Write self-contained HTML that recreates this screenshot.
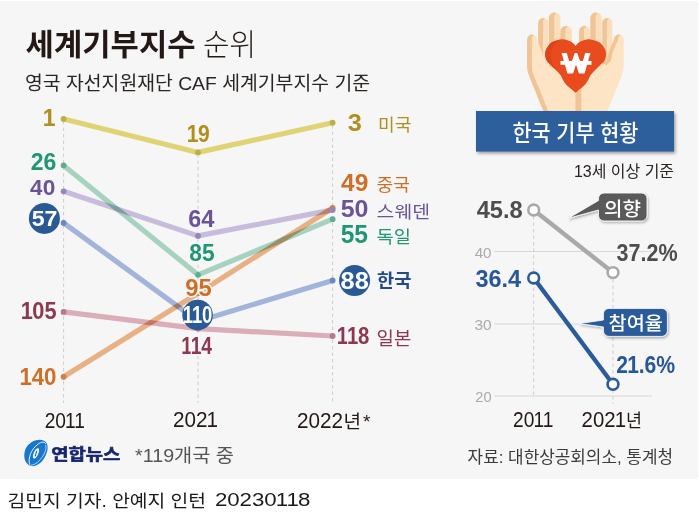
<!DOCTYPE html>
<html lang="ko"><head><meta charset="utf-8"><title>세계기부지수 순위</title>
<style>
html,body{margin:0;padding:0;background:#fff}
#wrap{position:relative;width:699px;height:520px;overflow:hidden;background:#fff;font-family:"Liberation Sans","Noto Sans CJK KR",sans-serif}
#bg{position:absolute;left:0;top:1px;width:698px;height:477.6px;background:#f6f6f6}
svg{position:absolute;left:0;top:0}
svg text{font-family:"Liberation Sans","Noto Sans CJK KR",sans-serif}
.t{position:absolute;color:transparent;white-space:nowrap;overflow:hidden;line-height:1;font-family:"Liberation Sans","Noto Sans CJK KR",sans-serif}
</style></head><body>
<div id="wrap">
<div id="bg"></div>
<svg width="699" height="520" viewBox="0 0 699 520">
<defs>
<filter id="ds" x="-20%" y="-20%" width="140%" height="150%"><feDropShadow dx="1" dy="1.5" stdDeviation="1.2" flood-color="#000" flood-opacity="0.3"/></filter>
<filter id="ds2" x="-5%" y="-20%" width="110%" height="150%"><feDropShadow dx="1.5" dy="2" stdDeviation="1.5" flood-color="#000" flood-opacity="0.35"/></filter>
</defs>
<g id="chart">
<line x1="63.6" y1="121" x2="63.6" y2="403" stroke="#cdcdcd" stroke-width="1" stroke-dasharray="3.5 3"/>
<line x1="198" y1="154" x2="198" y2="403" stroke="#cdcdcd" stroke-width="1" stroke-dasharray="3.5 3"/>
<line x1="332.6" y1="125" x2="332.6" y2="403" stroke="#cdcdcd" stroke-width="1" stroke-dasharray="3.5 3"/>
<g style="isolation:isolate">
<polyline points="63.6,311.9 198.0,328.6 332.6,336.0" fill="none" stroke="#dbadb8" stroke-width="5.2" stroke-linecap="round" stroke-linejoin="round" style="mix-blend-mode:multiply"/>
<polyline points="63.6,376.8 198.0,293.3 332.6,208.0" fill="none" stroke="#e8b085" stroke-width="5.2" stroke-linecap="round" stroke-linejoin="round" style="mix-blend-mode:multiply"/>
<polyline points="63.6,222.9 198.0,321.2 332.6,280.4" fill="none" stroke="#a3b4da" stroke-width="5.2" stroke-linecap="round" stroke-linejoin="round" style="mix-blend-mode:multiply"/>
<polyline points="63.6,165.4 198.0,274.8 332.6,219.2" fill="none" stroke="#a8d2c0" stroke-width="5.2" stroke-linecap="round" stroke-linejoin="round" style="mix-blend-mode:multiply"/>
<polyline points="63.6,191.3 198.0,235.9 332.6,209.9" fill="none" stroke="#c7bcdb" stroke-width="5.2" stroke-linecap="round" stroke-linejoin="round" style="mix-blend-mode:multiply"/>
<polyline points="63.6,119.0 198.0,152.4 332.6,122.7" fill="none" stroke="#dfd374" stroke-width="5.2" stroke-linecap="round" stroke-linejoin="round" style="mix-blend-mode:multiply"/>
</g>
<circle cx="63.6" cy="311.9" r="2.9" fill="#b67a8b"/>
<circle cx="198.0" cy="328.6" r="2.9" fill="#b67a8b"/>
<circle cx="332.6" cy="336.0" r="2.9" fill="#b67a8b"/>
<circle cx="63.6" cy="376.8" r="2.9" fill="#cf8048"/>
<circle cx="198.0" cy="293.3" r="2.9" fill="#cf8048"/>
<circle cx="332.6" cy="208.0" r="2.9" fill="#cf8048"/>
<circle cx="63.6" cy="222.9" r="2.9" fill="#6d88bf"/>
<circle cx="198.0" cy="321.2" r="2.9" fill="#6d88bf"/>
<circle cx="332.6" cy="280.4" r="2.9" fill="#6d88bf"/>
<circle cx="63.6" cy="165.4" r="2.9" fill="#5fae93"/>
<circle cx="198.0" cy="274.8" r="2.9" fill="#5fae93"/>
<circle cx="332.6" cy="219.2" r="2.9" fill="#5fae93"/>
<circle cx="63.6" cy="191.3" r="2.9" fill="#9585b8"/>
<circle cx="198.0" cy="235.9" r="2.9" fill="#9585b8"/>
<circle cx="332.6" cy="209.9" r="2.9" fill="#9585b8"/>
<circle cx="63.6" cy="119.0" r="2.9" fill="#bfae45"/>
<circle cx="198.0" cy="152.4" r="2.9" fill="#bfae45"/>
<circle cx="332.6" cy="122.7" r="2.9" fill="#bfae45"/>
</g>
<g id="mini">
<g stroke="#d8d8d8" stroke-width="1"><line x1="494" y1="251.5" x2="652" y2="251.5"/><line x1="494" y1="324" x2="652" y2="324"/><line x1="494" y1="396" x2="652" y2="396"/></g>
<g stroke="#cdcdcd" stroke-width="1" stroke-dasharray="3.5 3"><line x1="533.7" y1="216" x2="533.7" y2="396"/><line x1="613" y1="279" x2="613" y2="404"/></g>
<line x1="533.7" y1="210" x2="613" y2="272.6" stroke="#a9a9a9" stroke-width="4.400"/>
<line x1="533.7" y1="278" x2="613" y2="384.3" stroke="#2b5b9b" stroke-width="4.400"/>
<g fill="#fff" stroke-width="2.6"><circle cx="533.7" cy="210" r="5.4" stroke="#a9a9a9"/><circle cx="613" cy="272.6" r="5.4" stroke="#a9a9a9"/><circle cx="533.7" cy="278" r="5.4" stroke="#2b5b9b"/><circle cx="613" cy="384.3" r="5.4" stroke="#2b5b9b"/></g>
<g filter="url(#ds)">
<path d="M604 193h37.500a5.500 5.500 0 0 1 5.500 5.500v17a5.500 5.500 0 0 1-5.500 5.500h-37.500a5.500 5.500 0 0 1-5.500-5.500v-5.500l-30.500 8.400 30.500-17.900v-2a5.500 5.500 0 0 1 5.500-5.500z" fill="#5a5a5a" stroke="#fff" stroke-opacity="0.850" stroke-width="1" stroke-linejoin="round"/>
<path d="M608.900 308.400h53a5.500 5.500 0 0 1 5.500 5.500v17a5.500 5.500 0 0 1-5.500 5.500h-53a5.500 5.500 0 0 1-5.500-5.500v-3.900l-24.400-3.400 24.400-3.600v-6.100a5.500 5.500 0 0 1 5.500-5.500z" fill="#2b5b9b" stroke="#fff" stroke-opacity="0.850" stroke-width="1" stroke-linejoin="round"/>
</g>
</g>
<g id="hands">
<defs><clipPath id="wc"><rect x="555" y="53" width="42" height="20.500"/></clipPath></defs>
<!-- left hand fingers -->
<g>
<rect x="538.2" y="18.1" width="10" height="60" rx="4.6" fill="#fbdfbc"/>
<path d="M538.2 78V22.7a4.6 4.6 0 0 1 6.4-4.2 4.6 4.6 0 0 0-1.600 3.600V78z" fill="#f0c494"/>
<rect x="548.9" y="12.5" width="11.5" height="60" rx="5.4" fill="#fbdfbc"/>
<path d="M548.9 72V17.9a5.4 5.4 0 0 1 7.4-5 5.4 5.4 0 0 0-2 4.4V72z" fill="#f0c494"/>
<rect x="560.4" y="25.9" width="11.4" height="40" rx="5.4" fill="#fbdfbc"/>
<path d="M560.4 66V31.3a5.4 5.4 0 0 1 7.4-5 5.4 5.4 0 0 0-2.4 4.600V66z" fill="#f0c494"/>
</g>
<!-- right hand fingers -->
<g>
<rect x="579.2" y="25.9" width="10.8" height="40" rx="5.2" fill="#fbdfbc"/>
<path d="M579.2 66V31.1a5.2 5.2 0 0 1 7.2-4.8 5.2 5.2 0 0 0-2.4 4.4V66z" fill="#f0c494"/>
<rect x="590.4" y="12.5" width="11.4" height="60" rx="5.4" fill="#fbdfbc"/>
<path d="M590.4 72V17.9a5.4 5.4 0 0 1 7.4-5 5.4 5.4 0 0 0-2.200 4.400V72z" fill="#f0c494"/>
<rect x="602.4" y="18.1" width="10" height="60" rx="4.6" fill="#fbdfbc"/>
<path d="M602.4 78V22.7a4.6 4.6 0 0 1 6.400-4.200 4.600 4.600 0 0 0-2 3.800V78z" fill="#f0c494"/>
</g>
<!-- left palm + thumb -->
<path d="M527.1 39.5a4.9 4.9 0 0 1 9.8 0c0 1.500 1 2.500 1.900 4.500l3.400 8.400 2 8.800 6 6 25.200 8V111H543.300L530 78c-2-5-2.900-8-2.900-12z" fill="#fde4c4"/>
<path d="M527.1 39.5a4.900 4.900 0 0 1 6.600-4.600 4.900 4.900 0 0 0-1.800 3.900V66c0 4 .9 7 2.900 12l13.400 33h-4.900L530 78c-2-5-2.900-8-2.900-12z" fill="#f0c494"/>
<!-- right palm + thumb -->
<path d="M623.7 39.5a4.900 4.900 0 0 0-9.800 0c0 1.500-1 2.500-1.900 4.500l-3.400 8.400-2 8.800-6 6-25.200 8V111h32.100L620.800 78c2-5 2.900-8 2.900-12z" fill="#fde4c4"/>
<path d="M613.900 39.500a4.900 4.900 0 0 1 6.600-4.600 4.900 4.900 0 0 0-2.400 4.200c0 1.500-1 2.500-1.900 4.500l-3.400 8.400-2 8.800-4.500 4.500-2.500-1.500 3-3 2-8.800 3.400-8.400c.9-2 1.700-2.600 1.700-4.100z" fill="#f0c494"/>
<path d="M575.4 80l5.900 3V111h-5.900z" fill="#f0c494"/>
<!-- heart -->
<path d="M561.2 39.3C559.7 39.8 554.4 40.8 552.0 42.3C549.6 43.8 547.7 46.5 546.6 48.6C545.5 50.7 545.1 52.9 545.2 55.0C545.3 57.1 546.0 59.3 547.0 61.0C548.0 62.7 549.5 63.5 551.0 65.0C552.5 66.5 554.4 68.3 556.0 70.0C557.6 71.7 559.3 73.3 560.5 75.0C561.7 76.7 562.0 78.3 563.0 80.0C564.0 81.7 564.9 83.3 566.5 85.0C568.1 86.7 571.0 88.7 572.5 90.0C574.0 91.3 574.6 92.6 575.6 92.6C576.6 92.6 577.2 91.3 578.7 90.0C580.2 88.7 583.1 86.7 584.7 85.0C586.3 83.3 587.2 81.7 588.2 80.0C589.2 78.3 589.5 76.7 590.7 75.0C591.9 73.3 593.6 71.7 595.2 70.0C596.8 68.3 598.7 66.5 600.2 65.0C601.7 63.5 603.2 62.7 604.2 61.0C605.2 59.3 605.9 57.1 606.0 55.0C606.1 52.9 605.7 50.7 604.6 48.6C603.5 46.5 601.6 43.8 599.2 42.3C596.8 40.8 591.5 39.8 590.0 39.3C584.5 39.3 578.5 41.5 575.6 46C572.7 41.5 566.7 39.3 561.2 39.3z" fill="#e84b1d"/>
<path d="M561.2 39.3C559.7 39.8 554.4 40.8 552.0 42.3C549.6 43.8 547.7 46.5 546.6 48.6C545.5 50.7 545.1 52.9 545.2 55.0C545.3 57.1 546.0 59.3 547.0 61.0C548.0 62.7 549.5 63.5 551.0 65.0C552.5 66.5 554.4 68.3 556.0 70.0C557.6 71.7 559.8 74.2 560.5 75.0C556.5 70.5 551 64 550.6 57C550.2 49 555 42 561.2 39.3z" fill="#dc4417"/>
<!-- won -->
<g clip-path="url(#wc)">
<path d="M563.900 52l6.300 22 5.800-17 5.800 17 6.300-22" fill="none" stroke="#fff" stroke-width="5" stroke-linejoin="miter" stroke-miterlimit="10"/>
</g>
<rect x="560.500" y="60.900" width="31" height="3.900" fill="#fff"/>
</g>

<rect x="476" y="111" width="198" height="40.6" fill="#2f5f9d" filter="url(#ds2)"/>
<g id="logo">
<path d="M30.500 465.800C26.500 464.500 24 460 24.300 454.500 24.700 447.500 29.500 442 36 440.300 40.500 439.100 45 440 46.800 443.500 48.600 447.500 47.300 453.500 44 458.500 40.500 464 35 467.200 30.500 465.800z" fill="#1777cf"/>
<path d="M29.600 464.400C27.800 459 30.500 449.500 38.500 443.800 41.500 441.700 44.500 441.600 45.600 443.500" fill="none" stroke="#fff" stroke-width="0.900" stroke-linecap="round"/>
<path d="M31 465.300C36 465 41.500 459.500 44.800 452.500 46 449.800 46.300 447 45.700 445.300" fill="none" stroke="#fff" stroke-width="0.800" stroke-linecap="round" opacity="0.850"/>
<ellipse cx="36" cy="453.400" rx="5.600" ry="2.300" transform="rotate(-66 36 453.400)" fill="#fff"/>
<path d="M35.100 456.400l1.800-5.800" stroke="#1777cf" stroke-width="1.300" fill="none"/>
</g>

<g id="circ"><circle cx="44.4" cy="218.4" r="15.5" fill="#2a5a96"/><circle cx="197.6" cy="315" r="15.3" fill="#2a5a96"/><circle cx="354.6" cy="280.6" r="15.5" fill="#2a5a96"/></g>
<g id="nums">
<text transform="translate(43.67 126.40) scale(0.965 1)" x="-0.95" fill="#b08f1e" font-size="23.84" font-weight="bold" stroke="#f6f6f6" stroke-width="3" stroke-linejoin="round" paint-order="stroke">1</text>
<text transform="translate(30.80 169.77) scale(0.995 1)" x="0.00 12.88" fill="#1f9674" font-size="23.16" font-weight="bold" stroke="#f6f6f6" stroke-width="3" stroke-linejoin="round" paint-order="stroke">26</text>
<text transform="translate(30.06 195.38) scale(0.993 1)" x="0.00 12.73" fill="#6a5398" font-size="22.88" font-weight="bold" stroke="#f6f6f6" stroke-width="3" stroke-linejoin="round" paint-order="stroke">40</text>
<text transform="translate(21.50 319.37) scale(0.929 1)" x="-0.94 11.72 24.76" fill="#8d3850" font-size="23.45" font-weight="bold" stroke="#f6f6f6" stroke-width="3" stroke-linejoin="round" paint-order="stroke">105</text>
<text transform="translate(20.49 384.77) scale(0.953 1)" x="-0.94 11.72 24.76" fill="#cf6f27" font-size="23.45" font-weight="bold" stroke="#f6f6f6" stroke-width="3" stroke-linejoin="round" paint-order="stroke">140</text>
<text transform="translate(187.52 141.77) scale(0.910 1)" x="-0.93 11.58" fill="#b08f1e" font-size="23.16" font-weight="bold" stroke="#f6f6f6" stroke-width="3" stroke-linejoin="round" paint-order="stroke">19</text>
<text transform="translate(188.13 226.77) scale(1.012 1)" x="0.00 13.04" fill="#6a5398" font-size="23.45" font-weight="bold" stroke="#f6f6f6" stroke-width="3" stroke-linejoin="round" paint-order="stroke">64</text>
<text transform="translate(189.28 261.37) scale(0.972 1)" x="0.00 13.04" fill="#1f9674" font-size="23.45" font-weight="bold" stroke="#f6f6f6" stroke-width="3" stroke-linejoin="round" paint-order="stroke">85</text>
<text transform="translate(185.17 295.77) scale(1.016 1)" x="0.00 13.04" fill="#cf6f27" font-size="23.45" font-weight="bold" stroke="#f6f6f6" stroke-width="3" stroke-linejoin="round" paint-order="stroke">95</text>
<text transform="translate(181.95 354.00) scale(0.833 1)" x="-0.93 10.70 23.26" fill="#8d3850" font-size="23.26" font-weight="bold" stroke="#f6f6f6" stroke-width="3" stroke-linejoin="round" paint-order="stroke">114</text>
<text transform="translate(347.82 131.34) scale(1.083 1)" x="0.00" fill="#b08f1e" font-size="23.40" font-weight="bold" stroke="#f6f6f6" stroke-width="3" stroke-linejoin="round" paint-order="stroke">3</text>
<text transform="translate(341.03 191.36) scale(1.010 1)" x="0.00 13.51" fill="#cf6f27" font-size="24.29" font-weight="bold" stroke="#f6f6f6" stroke-width="3" stroke-linejoin="round" paint-order="stroke">49</text>
<text transform="translate(340.63 216.77) scale(1.041 1)" x="0.00 13.35" fill="#6a5398" font-size="24.01" font-weight="bold" stroke="#f6f6f6" stroke-width="3" stroke-linejoin="round" paint-order="stroke">50</text>
<text transform="translate(340.64 242.75) scale(0.978 1)" x="0.00 14.03" fill="#1f9674" font-size="25.22" font-weight="bold" stroke="#f6f6f6" stroke-width="3" stroke-linejoin="round" paint-order="stroke">55</text>
<text transform="translate(337.53 344.17) scale(0.848 1)" x="-0.96 11.05 24.01" fill="#8d3850" font-size="24.01" font-weight="bold" stroke="#f6f6f6" stroke-width="3" stroke-linejoin="round" paint-order="stroke">118</text>
<text transform="translate(31.69 226.38) scale(1.009 1)" x="0.00 12.75" fill="#fff" font-size="22.93" font-weight="bold">57</text>
<text transform="translate(183.57 323.17) scale(0.799 1)" x="-0.93 10.66 23.16" fill="#fff" font-size="23.16" font-weight="bold">110</text>
<text transform="translate(340.60 288.77) scale(1.094 1)" x="0.00 12.88" fill="#fff" font-size="23.16" font-weight="bold">88</text>
<text transform="translate(44.64 427.78) scale(0.870 1)" x="0.00 12.25 23.52 34.09" fill="#231815" font-size="22.03" font-weight="normal">2011</text>
<text transform="translate(172.96 427.39) scale(0.963 1)" x="0.00 11.94 23.88 34.85" fill="#231815" font-size="21.47" font-weight="normal">2021</text>
<text transform="translate(296.96 427.78) scale(0.940 1)" x="0.00 12.25 24.51 36.76" fill="#231815" font-size="22.03" font-weight="normal">2022</text>
<text transform="translate(513.04 427.19) scale(0.881 1)" x="0.00 12.10 23.22 33.66" fill="#231815" font-size="21.75" font-weight="normal">2011</text>
<text transform="translate(581.58 427.19) scale(0.937 1)" x="0.00 12.10 24.19 35.31" fill="#231815" font-size="21.75" font-weight="normal">2021</text>
<text transform="translate(214.88 506.22) scale(1.175 1)" x="0.00 10.53 21.05 31.58 42.10 51.78 60.86 70.80" fill="#1a1a1a" font-size="18.93" font-weight="normal">20230118</text>
<text transform="translate(474.65 257.86) scale(1.037 1)" x="0.00 8.17" fill="#aaa" font-size="14.69" font-weight="normal">40</text>
<text transform="translate(474.41 330.26) scale(1.052 1)" x="0.00 8.17" fill="#aaa" font-size="14.69" font-weight="normal">30</text>
<text transform="translate(475.26 402.46) scale(1.038 1)" x="0.00 7.86" fill="#aaa" font-size="14.12" font-weight="normal">20</text>
<text transform="translate(476.64 218.17) scale(0.998 1)" x="0.00 13.20 26.39 32.99" fill="#4d4d4d" font-size="23.73" font-weight="bold">45.8</text>
<text transform="translate(616.51 260.73) scale(0.899 1)" x="0.00 13.33 26.65 33.31 46.64" fill="#4d4d4d" font-size="23.96" font-weight="bold" stroke="#f6f6f6" stroke-width="3" stroke-linejoin="round" paint-order="stroke">37.2%</text>
<text transform="translate(475.46 287.33) scale(0.968 1)" x="0.00 13.48 26.97 33.70" fill="#27569a" font-size="24.24" font-weight="bold">36.4</text>
<text transform="translate(616.27 372.77) scale(0.904 1)" x="0.00 12.10 24.76 31.28 44.32" fill="#27569a" font-size="23.45" font-weight="bold" stroke="#f6f6f6" stroke-width="3" stroke-linejoin="round" paint-order="stroke">21.6%</text>
</g>
<g id="ktext">
<text x="25.6" y="55" font-size="30" font-weight="bold" fill="#231815" textLength="170" lengthAdjust="spacingAndGlyphs">세계기부지수</text>
<text x="203" y="55" font-size="30" font-weight="300" fill="#231815" textLength="53" lengthAdjust="spacingAndGlyphs">순위</text>
<text x="25" y="89.5" font-size="19" fill="#2a2522" textLength="345" lengthAdjust="spacingAndGlyphs">영국 자선지원재단 CAF 세계기부지수 기준</text>
<text x="378" y="131" font-size="17.5" fill="#b08f1e" textLength="33.4" lengthAdjust="spacingAndGlyphs">미국</text>
<text x="376.6" y="191" font-size="17.5" fill="#cf6f27" textLength="33.4" lengthAdjust="spacingAndGlyphs">중국</text>
<text x="376.6" y="217.5" font-size="17.5" fill="#6a5398" textLength="53.4" lengthAdjust="spacingAndGlyphs">스웨덴</text>
<text x="376.6" y="243" font-size="17.5" fill="#1f9674" textLength="34.4" lengthAdjust="spacingAndGlyphs">독일</text>
<text x="377" y="287" font-size="18" font-weight="bold" fill="#234b8a" textLength="34.4" lengthAdjust="spacingAndGlyphs">한국</text>
<text x="376.6" y="344.5" font-size="18" fill="#8d3850" textLength="34.8" lengthAdjust="spacingAndGlyphs">일본</text>
<text x="343.4" y="427.8" font-size="18.5" fill="#231815" textLength="17.6" lengthAdjust="spacingAndGlyphs">년</text>
<text x="363" y="427.8" font-size="19" fill="#231815">*</text>
<text x="626" y="427.2" font-size="18.5" fill="#231815" textLength="16" lengthAdjust="spacingAndGlyphs">년</text>
<text x="135" y="461.5" font-size="18" fill="#555" textLength="99" lengthAdjust="spacingAndGlyphs">*119개국 중</text>
<text x="467.6" y="462.5" font-size="16.5" fill="#3a3a3a" textLength="205.4" lengthAdjust="spacingAndGlyphs">자료: 대한상공회의소, 통계청</text>
<text x="574" y="176.5" font-size="16" fill="#2a2522" textLength="100" lengthAdjust="spacingAndGlyphs">13세 이상 기준</text>
<text x="512.4" y="141" font-size="22.5" font-weight="500" fill="#fff" textLength="126" lengthAdjust="spacingAndGlyphs">한국 기부 현황</text>
<text x="604" y="215.5" font-size="19" font-weight="500" fill="#fff" textLength="37" lengthAdjust="spacingAndGlyphs">의향</text>
<text x="608.6" y="330" font-size="18.5" font-weight="500" fill="#fff" textLength="54.4" lengthAdjust="spacingAndGlyphs">참여율</text>
<text x="7.6" y="506.5" font-size="17.5" fill="#1a1a1a" textLength="198.4" lengthAdjust="spacingAndGlyphs">김민지 기자. 안예지 인턴</text>
<text x="51.3" y="460.3" font-size="15.5" font-weight="bold" fill="#17256f" stroke="#17256f" stroke-width="0.6" textLength="69" lengthAdjust="spacingAndGlyphs">연합뉴스</text>
</g>
</svg>
<div id="textlayer">
<span class="t" style="left:25.6px;top:26.0px;width:170.0px;height:32.0px;font-size:25.6px">세계기부지수</span>
<span class="t" style="left:203.0px;top:25.0px;width:53.0px;height:33.0px;font-size:26.4px">순위</span>
<span class="t" style="left:25.0px;top:71.6px;width:345.0px;height:20.4px;font-size:16.3px">영국 자선지원재단 CAF 세계기부지수 기준</span>
<span class="t" style="left:378.0px;top:114.4px;width:33.4px;height:18.6px;font-size:14.9px">미국</span>
<span class="t" style="left:376.6px;top:174.4px;width:33.4px;height:18.6px;font-size:14.9px">중국</span>
<span class="t" style="left:376.6px;top:201.0px;width:53.4px;height:18.6px;font-size:14.9px">스웨덴</span>
<span class="t" style="left:376.6px;top:226.0px;width:34.4px;height:19.0px;font-size:15.2px">독일</span>
<span class="t" style="left:377.0px;top:269.0px;width:34.4px;height:20.4px;font-size:16.3px">한국</span>
<span class="t" style="left:376.6px;top:327.0px;width:34.8px;height:19.6px;font-size:15.7px">일본</span>
<span class="t" style="left:343.4px;top:410.0px;width:17.6px;height:20.0px;font-size:16.0px">년</span>
<span class="t" style="left:363.0px;top:413.6px;width:7.6px;height:8.4px;font-size:6.7px">*</span>
<span class="t" style="left:626.0px;top:409.4px;width:16.0px;height:20.0px;font-size:16.0px">년</span>
<span class="t" style="left:135.0px;top:444.0px;width:99.0px;height:20.0px;font-size:16.0px">*119개국 중</span>
<span class="t" style="left:467.6px;top:446.3px;width:205.4px;height:19.4px;font-size:15.5px">자료: 대한상공회의소, 통계청</span>
<span class="t" style="left:574.0px;top:161.0px;width:100.0px;height:17.4px;font-size:13.9px">13세 이상 기준</span>
<span class="t" style="left:512.4px;top:119.0px;width:126.0px;height:24.6px;font-size:19.7px">한국 기부 현황</span>
<span class="t" style="left:604.0px;top:196.4px;width:37.0px;height:21.6px;font-size:17.3px">의향</span>
<span class="t" style="left:608.6px;top:311.6px;width:54.4px;height:20.8px;font-size:16.6px">참여율</span>
<span class="t" style="left:7.6px;top:489.6px;width:198.4px;height:19.4px;font-size:15.5px">김민지 기자. 안예지 인턴</span>
<span class="t" style="left:51.3px;top:446.3px;width:69.0px;height:15.9px;font-size:12.7px">연합뉴스</span>
</div>
</div>
</body></html>
